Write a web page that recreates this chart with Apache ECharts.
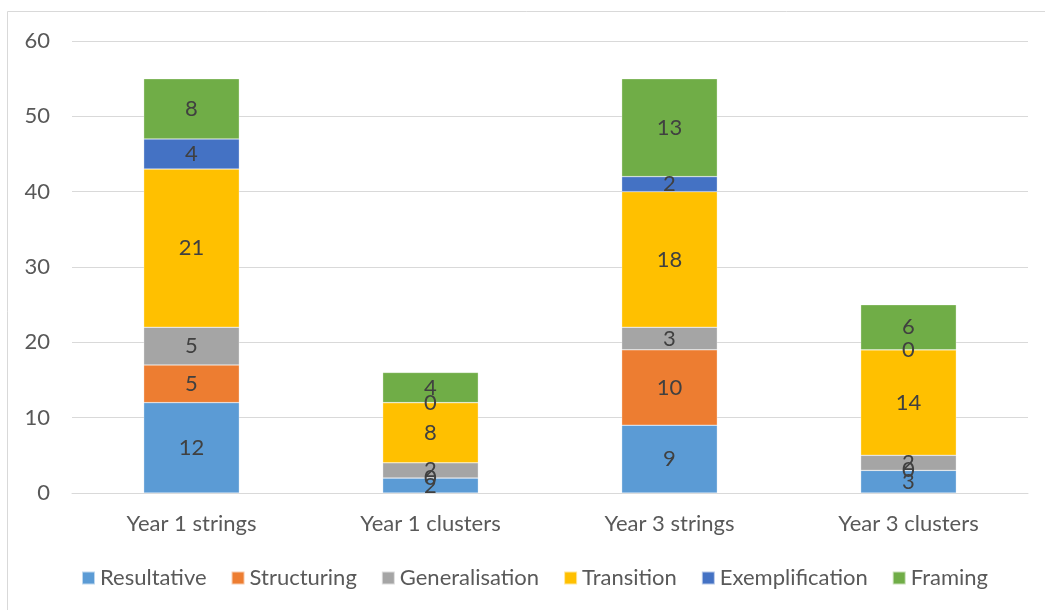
<!DOCTYPE html>
<html>
<head>
<meta charset="utf-8">
<script src="https://cdn.jsdelivr.net/npm/echarts@6/dist/echarts.min.js"></script>
<style>
  html, body { margin: 0; padding: 0; background: #fff; }
  #chart { width: 1045px; height: 610px; }
</style>
</head>
<body>
<div id="chart"></div>
<script>
// Categories and per-type counts
const categories = ['Year 1 strings', 'Year 1 clusters', 'Year 3 strings', 'Year 3 clusters'];
const resultative = [12, 2, 9, 3];
const structuring = [5, 0, 10, 0];
const generalisation = [5, 2, 3, 2];
const transition = [21, 8, 18, 14];
const exemplification = [4, 0, 2, 0];
const framing = [8, 4, 13, 6];
const yTicks = [0, 10, 20, 30, 40, 50, 60];

const seriesDefs = [
  { name: 'Resultative', data: resultative, color: '#5B9BD5' },
  { name: 'Structuring', data: structuring, color: '#ED7D31' },
  { name: 'Generalisation', data: generalisation, color: '#A5A5A5' },
  { name: 'Transition', data: transition, color: '#FFC000' },
  { name: 'Exemplification', data: exemplification, color: '#4472C4' },
  { name: 'Framing', data: framing, color: '#70AD47' }
];

const FONT = 'Lato';
const FS = 22;
const chart = echarts.init(document.getElementById('chart'), null, { renderer: 'canvas' });

chart.setOption({
  animation: false,
  backgroundColor: '#fff',
  textStyle: { fontFamily: FONT },
  graphic: [{
    type: 'rect',
    shape: { x: 7.5, y: 11.5, width: 1100, height: 700 },
    style: { fill: 'none', stroke: '#d9d9d9', lineWidth: 1 },
    silent: true,
    z: -1
  }],
  grid: { left: 72, right: 17, top: 41, bottom: 117, containLabel: false },
  legend: {
    bottom: 16,
    left: 76,
    itemWidth: 13,
    itemHeight: 13,
    itemGap: 24,
    icon: 'rect',
    textStyle: { color: '#595959', fontSize: FS, fontFamily: FONT },
    data: seriesDefs.map(s => s.name)
  },
  xAxis: {
    type: 'category',
    data: categories,
    axisLine: { show: true, lineStyle: { color: '#d9d9d9', width: 1 } },
    axisTick: { show: false },
    axisLabel: { color: '#595959', fontSize: FS, margin: 20, fontFamily: FONT }
  },
  yAxis: {
    type: 'value',
    min: yTicks[0],
    max: yTicks[yTicks.length - 1],
    interval: 10,
    axisLine: { show: false },
    axisTick: { show: false },
    axisLabel: { color: '#595959', fontSize: FS, margin: 22, fontFamily: FONT },
    splitLine: { lineStyle: { color: '#d9d9d9', width: 1 } }
  },
  series: seriesDefs.map(s => ({
    name: s.name,
    type: 'bar',
    stack: 'total',
    barWidth: '40%',
    data: s.data,
    itemStyle: { color: s.color, borderColor: 'rgba(255,255,255,0.6)', borderWidth: 0.5 },
    label: {
      show: true,
      position: 'inside',
      color: '#404040',
      fontSize: FS,
      fontFamily: FONT
    }
  }))
});
</script>
</body>
</html>
